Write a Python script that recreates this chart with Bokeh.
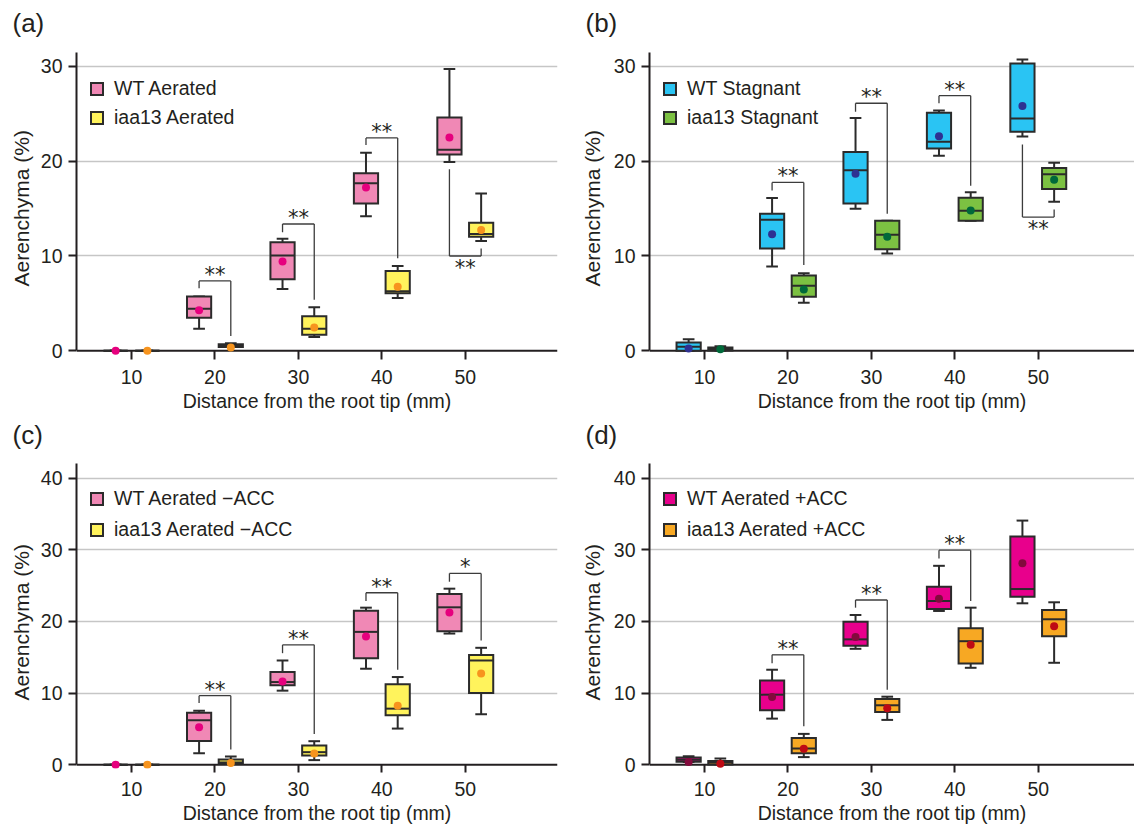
from bokeh.plotting import figure
from bokeh.layouts import column, row
from bokeh.models import (Span, Legend, LegendItem, FixedTicker, ColumnDataSource,
                          Range1d, Title)
from bokeh.core.properties import value
from bokeh.embed import file_html
from bokeh.resources import INLINE

FONT = "Liberation Sans"
TXT = "#231f20"
EDGE = "#2b2b2b"

# ---------------- data ----------------
distance = [10, 20, 30, 40, 50]
x_ticks = [10, 20, 30, 40, 50]

# (a) Aerated
a_wt_low = [0, 2.33, 6.51, 14.2, 19.9]
a_wt_q1 = [0, 3.48, 7.55, 15.52, 20.7]
a_wt_med = [0, 4.45, 10.06, 17.68, 21.2]
a_wt_q3 = [0, 5.74, 11.45, 18.73, 24.6]
a_wt_high = [0, 5.74, 11.83, 20.88, 29.7]
a_wt_mean = [0, 4.28, 9.43, 17.23, 22.5]
a_mu_low = [0, 0.4, 1.46, 5.57, 11.59]
a_mu_q1 = [0, 0.4, 1.71, 6.06, 12.04]
a_mu_med = [0, 0.55, 2.33, 6.27, 12.32]
a_mu_q3 = [0, 0.7, 3.65, 8.42, 13.5]
a_mu_high = [0, 0.8, 4.59, 8.95, 16.6]
a_mu_mean = [0, 0.35, 2.47, 6.75, 12.74]
a_sig_dist = [20, 30, 40, 50]
a_sig_level = [7.37, 13.37, 22.45, 10.0]
a_sig_wt_end = [6.6, 12.5, 21.7, 19.14]
a_sig_mu_end = [1.57, 5.4, 9.75, 10.8]
a_sig_label = ["**", "**", "**", "**"]

# (b) Stagnant
b_wt_low = [0, 8.88, 14.97, 20.57, 22.6]
b_wt_q1 = [0, 10.79, 15.52, 21.34, 23.1]
b_wt_med = [0.42, 13.82, 19.04, 22.03, 24.5]
b_wt_q3 = [0.87, 14.44, 20.95, 25.1, 30.3]
b_wt_high = [1.21, 16.12, 24.54, 25.34, 30.7]
b_wt_mean = [0.25, 12.29, 18.66, 22.62, 25.8]
b_mu_low = [0, 5.08, 10.27, 13.71, 15.73]
b_mu_q1 = [0.05, 5.71, 10.72, 13.71, 17.06]
b_mu_med = [0.2, 6.86, 12.25, 14.76, 18.62]
b_mu_q3 = [0.35, 7.94, 13.71, 16.15, 19.28]
b_mu_high = [0.49, 8.18, 13.71, 16.71, 19.84]
b_mu_mean = [0.17, 6.47, 12.04, 14.79, 18.03]
b_sig_dist = [20, 30, 40, 50]
b_sig_level = [17.75, 26.1, 26.9, 14.1]
b_sig_wt_end = [16.9, 25.2, 26.1, 21.75]
b_sig_mu_end = [9.05, 14.44, 17.4, 14.9]
b_sig_label = ["**", "**", "**", "**"]

# (c) Aerated -ACC
c_wt_low = [0, 1.6, 10.34, 13.4, 18.31]
c_wt_q1 = [0, 3.3, 11.08, 14.88, 18.63]
c_wt_med = [0, 6.2, 11.54, 18.54, 21.97]
c_wt_q3 = [0, 7.25, 12.93, 21.5, 23.82]
c_wt_high = [0, 7.55, 14.55, 21.92, 24.57]
c_wt_mean = [0, 5.23, 11.63, 17.89, 21.23]
c_mu_low = [0, 0.1, 0.65, 5.05, 7.05]
c_mu_q1 = [0, 0.14, 1.3, 6.91, 10.01]
c_mu_med = [0, 0.32, 1.76, 7.83, 14.55]
c_mu_q3 = [0, 0.74, 2.69, 11.22, 15.3]
c_mu_high = [0, 1.16, 3.29, 12.24, 16.32]
c_mu_mean = [0, 0.23, 1.58, 8.25, 12.75]
c_sig_dist = [20, 30, 40, 50]
c_sig_level = [9.64, 16.73, 24.0, 26.7]
c_sig_wt_end = [8.62, 15.57, 22.85, 25.54]
c_sig_mu_end = [2.13, 4.31, 13.26, 17.33]
c_sig_label = ["**", "**", "**", "*"]

# (d) Aerated +ACC
d_wt_low = [0.4, 6.44, 16.18, 21.46, 22.53]
d_wt_q1 = [0.42, 7.6, 16.6, 21.74, 23.45]
d_wt_med = [0.7, 9.78, 17.5, 22.85, 24.52]
d_wt_q3 = [1.0, 11.77, 19.97, 24.84, 31.84]
d_wt_high = [1.2, 13.26, 20.9, 27.76, 34.07]
d_wt_mean = [0.37, 9.46, 17.84, 23.17, 28.13]
d_mu_low = [0.05, 1.07, 6.26, 13.53, 14.23]
d_mu_q1 = [0.05, 1.62, 7.37, 14.14, 17.94]
d_mu_med = [0.3, 2.27, 8.3, 17.24, 20.3]
d_mu_q3 = [0.51, 3.75, 9.18, 19.05, 21.6]
d_mu_high = [0.88, 4.31, 9.5, 21.92, 22.67]
d_mu_mean = [0.14, 2.22, 7.88, 16.73, 19.33]
d_sig_dist = [20, 30, 40]
d_sig_level = [15.34, 22.99, 29.94]
d_sig_wt_end = [14.18, 21.92, 28.78]
d_sig_mu_end = [5.38, 10.47, 22.85]
d_sig_label = ["**", "**", "**"]

# ---------------- styling ----------------
OFF = 1.9      # mm shift of each box from the tick
BOXW = 2.9     # box width (mm)
CAPW = 1.4     # whisker cap width (mm)


def add_series(p, xs_base, off, low, q1, med, q3, high, mean, fill, dot):
    xs = [d + off for d in xs_base]
    src = ColumnDataSource(dict(
        x=xs, low=low, q1=q1, med=med, q3=q3, high=high, mean=mean,
        x0=[x - BOXW / 2 for x in xs], x1=[x + BOXW / 2 for x in xs],
        c0=[x - CAPW / 2 for x in xs], c1=[x + CAPW / 2 for x in xs]))
    kw = dict(source=src, line_color=EDGE, line_width=2)
    p.segment(x0="x", x1="x", y0="q3", y1="high", **kw)
    p.segment(x0="x", x1="x", y0="q1", y1="low", **kw)
    p.segment(x0="c0", x1="c1", y0="high", y1="high", **kw)
    p.segment(x0="c0", x1="c1", y0="low", y1="low", **kw)
    box = p.vbar(x="x", width=BOXW, bottom="q1", top="q3", source=src,
                 fill_color=fill, line_color=EDGE, line_width=2, line_join="miter")
    p.segment(x0="x0", x1="x1", y0="med", y1="med", **kw)
    p.scatter(x="x", y="mean", size=8, fill_color=dot, line_color=None, source=src)
    return box


def add_sig(p, dist, level, wt_end, mu_end, labels):
    xw = [d - OFF for d in dist]
    xm = [d + OFF for d in dist]
    kw = dict(line_color="#3c3c3c", line_width=1.3)
    p.segment(x0=xw, x1=xm, y0=level, y1=level, **kw)
    p.segment(x0=xw, x1=xw, y0=level, y1=wt_end, **kw)
    p.segment(x0=xm, x1=xm, y0=level, y1=mu_end, **kw)
    yoff = [-6 if lv > we else 12 for lv, we in zip(level, wt_end)]
    p.text(x=dist, y=level, text=labels, y_offset=yoff, text_align="center",
           text_baseline="alphabetic", text_font=value("DejaVu Sans"),
           text_font_size="21px", text_color=TXT)


def make_panel(tag, title_offset, title_standoff, y_ticks, y_range, y_top, x_range,
               borders, row1, ylab_offset, ylab_standoff, series, sig, legend_loc,
               legend_spacing):
    left, right, top, bottom = borders
    p = figure(width=567, height=414, output_backend="svg", toolbar_location=None,
               x_range=Range1d(*x_range), y_range=Range1d(*y_range),
               min_border_left=left, min_border_right=right,
               min_border_top=top, min_border_bottom=bottom)
    p.outline_line_color = None
    p.background_fill_color = "white"
    p.border_fill_color = "white"

    p.title.text = tag
    p.title.text_font = FONT
    p.title.text_font_size = "26px"
    p.title.text_font_style = "normal"
    p.title.text_color = TXT
    p.title.align = "left"
    p.title.offset = title_offset
    p.title.standoff = title_standoff

    # grid
    p.xgrid.visible = False
    p.ygrid.ticker = FixedTicker(ticks=y_ticks[1:])
    p.ygrid.grid_line_color = "#c6c6c6"
    p.ygrid.grid_line_width = 1.5

    # x axis (its line is drawn at y = 0 with a span)
    xa = p.xaxis[0]
    xa.ticker = FixedTicker(ticks=x_ticks)
    xa.axis_line_color = None
    xa.major_tick_line_color = TXT
    xa.major_tick_line_width = 2
    xa.major_tick_in = 5 if row1 else 4
    xa.major_tick_out = 4
    xa.minor_tick_line_color = None
    xa.major_label_standoff = 10 if row1 else 9
    xa.major_label_text_font = FONT
    xa.major_label_text_font_size = "19.5px"
    xa.major_label_text_color = TXT
    xa.axis_label = "Distance from the root tip (mm)"
    xa.axis_label_standoff = 3
    xa.axis_label_text_font = FONT
    xa.axis_label_text_font_size = "19.5px"
    xa.axis_label_text_font_style = "normal"
    xa.axis_label_text_color = TXT

    ya = p.yaxis[0]
    ya.ticker = FixedTicker(ticks=y_ticks)
    ya.bounds = (0, y_top)
    ya.axis_line_color = TXT
    ya.axis_line_width = 2
    ya.major_tick_line_color = TXT
    ya.major_tick_line_width = 2
    ya.major_tick_in = 0
    ya.major_tick_out = 8
    ya.minor_tick_line_color = None
    ya.major_label_standoff = 6
    ya.major_label_text_font = FONT
    ya.major_label_text_font_size = "19.5px"
    ya.major_label_text_color = TXT

    # y axis title as a side title so it can be placed along the axis
    p.add_layout(Title(text="Aerenchyma (%)", align="left", offset=ylab_offset,
                       standoff=ylab_standoff, text_font=FONT, text_font_size="21px",
                       text_font_style="normal", text_color=TXT), "left")

    p.add_layout(Span(location=0, dimension="width", line_color=TXT, line_width=2,
                      level="underlay"))

    items = []
    for (name, off, arrays, fill, dot) in series:
        r = add_series(p, distance, off, *arrays, fill, dot)
        items.append(LegendItem(label=name, renderers=[r]))

    add_sig(p, *sig)

    leg = Legend(items=items, location=legend_loc, orientation="vertical",
                 glyph_width=15, glyph_height=15, label_standoff=10,
                 spacing=legend_spacing, padding=0, margin=0, label_height=22,
                 border_line_color=None, background_fill_alpha=0,
                 label_text_font=FONT, label_text_font_size="19.5px",
                 label_text_color=TXT)
    p.add_layout(leg)
    return p


A_X = (3.41, 61.05)
B_X = (3.41, 61.53)
TOP_Y = (-0.49, 32.61)   # frame range, row 1
TOP_AXIS = 31.46         # visible end of the y axis line, row 1
BOT_Y = (-0.52, 43.57)   # frame range, row 2
BOT_AXIS = 42.04         # visible end of the y axis line, row 2

pa = make_panel(
    "(a)", -64, 8, [0, 10, 20, 30], TOP_Y, TOP_AXIS, A_X, (76, 10, 41, 56), True,
    69, 10,
    [("WT Aerated", -OFF, (a_wt_low, a_wt_q1, a_wt_med, a_wt_q3, a_wt_high, a_wt_mean),
      "#f088b5", "#e6007e"),
     ("iaa13 Aerated", OFF, (a_mu_low, a_mu_q1, a_mu_med, a_mu_q3, a_mu_high, a_mu_mean),
      "#fff35c", "#f7941e")],
    (a_sig_dist, a_sig_level, a_sig_wt_end, a_sig_mu_end, a_sig_label),
    (13, 226), 6)

pb = make_panel(
    "(b)", -64, 8, [0, 10, 20, 30], TOP_Y, TOP_AXIS, B_X, (82, 0, 41, 56), True,
    69, 13,
    [("WT Stagnant", -OFF, (b_wt_low, b_wt_q1, b_wt_med, b_wt_q3, b_wt_high, b_wt_mean),
      "#2ac4f3", "#2e3192"),
     ("iaa13 Stagnant", OFF, (b_mu_low, b_mu_q1, b_mu_med, b_mu_q3, b_mu_high, b_mu_mean),
      "#7cc142", "#00693a")],
    (b_sig_dist, b_sig_level, b_sig_wt_end, b_sig_mu_end, b_sig_label),
    (13, 226), 6)

pc = make_panel(
    "(c)", -64, 6, [0, 10, 20, 30, 40], BOT_Y, BOT_AXIS, A_X, (76, 10, 37, 60), False,
    68, 10,
    [("WT Aerated \u2212ACC", -OFF, (c_wt_low, c_wt_q1, c_wt_med, c_wt_q3, c_wt_high, c_wt_mean),
      "#f088b5", "#e6007e"),
     ("iaa13 Aerated \u2212ACC", OFF, (c_mu_low, c_mu_q1, c_mu_med, c_mu_q3, c_mu_high, c_mu_mean),
      "#fff35c", "#f7941e")],
    (c_sig_dist, c_sig_level, c_sig_wt_end, c_sig_mu_end, c_sig_label),
    (13, 227), 8)

pd_ = make_panel(
    "(d)", -64, 6, [0, 10, 20, 30, 40], BOT_Y, BOT_AXIS, B_X, (82, 0, 37, 60), False,
    68, 13,
    [("WT Aerated +ACC", -OFF, (d_wt_low, d_wt_q1, d_wt_med, d_wt_q3, d_wt_high, d_wt_mean),
      "#e8008c", "#820a3c"),
     ("iaa13 Aerated +ACC", OFF, (d_mu_low, d_mu_q1, d_mu_med, d_mu_q3, d_mu_high, d_mu_mean),
      "#f7a823", "#be0a14")],
    (d_sig_dist, d_sig_level, d_sig_wt_end, d_sig_mu_end, d_sig_label),
    (13, 227), 8)

layout = column(row(pa, pb), row(pc, pd_))
open("out.html", "w").write(file_html(layout, INLINE))
